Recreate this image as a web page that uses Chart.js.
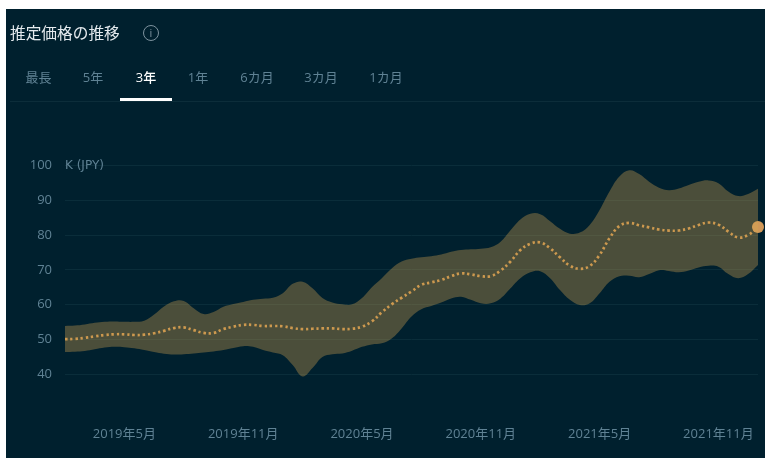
<!DOCTYPE html>
<html lang="ja">
<head>
<meta charset="utf-8">
<script src="https://cdn.jsdelivr.net/npm/chart.js@4"></script>
<style>
    html, body { margin: 0; padding: 0; background: #fff; width: 765px; height: 458px; overflow: hidden; }
    body { font-family: "Open Sans", "Noto Sans CJK JP", sans-serif; }
    #panel { position: absolute; left: 6px; top: 9px; width: 759px; height: 449px; background: #00202e; }
    #chart-wrap { position: absolute; left: 0; top: 0; width: 765px; height: 458px; }
    .title { position: absolute; left: 10px; top: 23px; font-size: 15.7px; line-height: 20px; color: #e4eaee; white-space: nowrap; }
    .info { position: absolute; left: 143px; top: 25px; width: 14px; height: 14px; border: 1px solid #7d929e; border-radius: 50%; color: #7d929e; font-size: 11px; line-height: 14px; text-align: center; }
    .tab { position: absolute; top: 68px; font-size: 13px; line-height: 18px; color: #5f8294; transform: translateX(-50%); white-space: nowrap; }
    .tab.current { color: #fff; font-weight: 500; }
    #tab-line { position: absolute; left: 10px; top: 101px; width: 755px; height: 1px; background: #0c2d3a; }
    #tab-mark { position: absolute; left: 120px; top: 98px; width: 52px; height: 3px; background: #fff; }
    .unit { position: absolute; left: 65px; top: 157px; font-family: "DejaVu Sans", sans-serif; font-size: 12px; line-height: 17px; color: #5f8294; }
</style>
</head>
<body>
<div id="panel"></div>
<div id="chart-wrap"><canvas id="price-chart" width="765" height="458"></canvas></div>
<div class="title">推定価格の推移</div>
<div class="info">i</div>
<div id="tabs"></div>
<div id="tab-line"></div>
<div id="tab-mark"></div>
<div class="unit">K (JPY)</div>
<script>
// タブ
const TAB_NAMES = ["最長", "5年", "3年", "1年", "6カ月", "3カ月", "1カ月"];
const TAB_POS   = [38.5, 93, 146, 198, 257, 321, 386];

// 半月ごとの読み取り値 (2019年2月〜2022年1月)
const yTicks = [40, 50, 60, 70, 80, 90, 100];
const xTickLabels = ["2019年5月", "2019年11月", "2020年5月", "2020年11月", "2021年5月", "2021年11月"];

const upper = [
    53.9, 54.0, 54.3, 54.8, 55.1, 55.2, 55.1, 55.1, 55.4, 57.2, 59.5, 61.0,
    61.1, 59.0, 57.3, 57.9, 59.4, 60.2, 60.8, 61.4, 61.7, 62.0, 63.3, 66.0,
    66.6, 64.7, 61.9, 60.6, 60.1, 60.1, 61.9, 65.0, 67.6, 70.4, 72.4, 73.2,
    73.6, 73.9, 74.4, 75.2, 75.7, 75.9, 76.1, 76.5, 78.1, 81.4, 84.5, 86.1,
    86.0, 84.0, 81.8, 80.4, 80.7, 82.9, 87.2, 92.5, 96.8, 98.6, 97.5, 95.3,
    93.6, 92.9, 93.4, 94.4, 95.3, 95.7, 94.9, 92.5, 91.2, 91.8, 93.3
];
const median = [
    50.1, 50.2, 50.5, 50.9, 51.3, 51.5, 51.5, 51.3, 51.4, 51.8, 52.5, 53.3,
    53.5, 52.7, 51.9, 51.9, 53.0, 53.7, 54.2, 54.2, 53.9, 53.9, 53.8, 53.3,
    53.0, 53.1, 53.2, 53.2, 53.0, 53.1, 53.7, 55.2, 57.8, 60.1, 62.0, 63.8,
    65.7, 66.4, 67.1, 68.2, 69.0, 68.7, 68.2, 68.2, 69.8, 72.4, 75.7, 77.5,
    77.9, 76.2, 73.6, 71.2, 70.3, 71.1, 74.3, 79.1, 82.6, 83.5, 82.8, 82.2,
    81.6, 81.3, 81.3, 81.9, 82.9, 83.6, 83.0, 81.0, 79.3, 80.0, 82.3
];
const lower = [
    46.4, 46.5, 46.7, 47.2, 47.7, 47.9, 47.8, 47.5, 47.0, 46.4, 45.9, 45.7,
    45.8, 46.0, 46.3, 46.6, 47.0, 47.6, 48.1, 47.9, 47.0, 46.3, 45.5, 42.7,
    39.4, 41.8, 45.0, 45.8, 46.0, 46.8, 47.9, 48.6, 48.9, 50.3, 53.2, 56.6,
    58.7, 59.6, 60.6, 61.8, 62.3, 61.4, 60.4, 60.4, 61.8, 64.7, 67.6, 69.3,
    69.6, 67.6, 64.2, 61.4, 59.9, 60.4, 63.3, 66.6, 68.2, 68.3, 67.9, 68.8,
    69.9, 69.7, 69.3, 69.8, 70.7, 71.2, 70.9, 68.8, 67.6, 68.8, 71.4
];

// ラベルは半月刻み、月初だけ「年月」を付ける
const categories = [];
for (let i = 0; i < median.length; i++) {
    const m = 1 + Math.floor(i / 2);
    const ano = 2019 + Math.floor(m / 12);
    categories.push(ano + "年" + (m % 12 + 1) + "月" + (i % 2 ? "後半" : ""));
}

document.getElementById("tabs").innerHTML = TAB_NAMES.map((t, i) =>
    `<div class="tab${i === 2 ? " current" : ""}" style="left:${TAB_POS[i]}px">${t}</div>`
).join("");

const TICK_FONT = { family: '"Open Sans", "Noto Sans CJK JP", sans-serif', size: 13 };

new Chart(document.getElementById("price-chart").getContext("2d"), {
    type: "line",
    data: {
        labels: categories,
        datasets: [
            {
                label: "上限",
                data: upper,
                borderWidth: 0,
                pointRadius: 0,
                tension: 0.4,
                backgroundColor: "rgba(215,165,80,0.35)",
                fill: "+1",
            },
            {
                label: "下限",
                data: lower,
                borderWidth: 0,
                pointRadius: 0,
                tension: 0.4,
                fill: false,
            },
            {
                label: "推定価格",
                data: median,
                borderColor: "#c8924f",
                borderWidth: 2.7,
                borderDash: [2.4, 2.8],
                tension: 0.4,
                pointRadius: ctx => ctx.dataIndex === median.length - 1 ? 6 : 0,
                pointBackgroundColor: "#d09858",
                pointBorderWidth: 0,
                fill: false,
                clip: false,
            },
        ]
    },
    options: {
        responsive: false,
        animation: false,
        layout: { padding: { top: 165.4, right: 7, bottom: 0.8, left: 0 } },
        plugins: { legend: { display: false }, tooltip: { enabled: false } },
        scales: {
            x: {
                grid: { display: false },
                border: { display: false },
                afterFit: s => { s.height = 48; s.paddingRight = 0; s.paddingLeft = 0; },
                ticks: {
                    color: "#5f8294", font: TICK_FONT, padding: 9,
                    autoSkip: false, maxRotation: 0,
                    callback: function (v) {
                        const lbl = this.getLabelForValue(v);
                        return xTickLabels.includes(lbl) ? lbl : null;
                    }
                }
            },
            y: {
                min: 30, max: 100,
                afterFit: s => { s.width = 65; },
                afterBuildTicks: s => { s.ticks = yTicks.map(v => ({ value: v })); },
                grid: { color: "#0a2d3a", drawTicks: false },
                border: { display: false },
                ticks: { color: "#5f8294", font: TICK_FONT, padding: 13 }
            }
        }
    }
});
</script>
</body>
</html>
